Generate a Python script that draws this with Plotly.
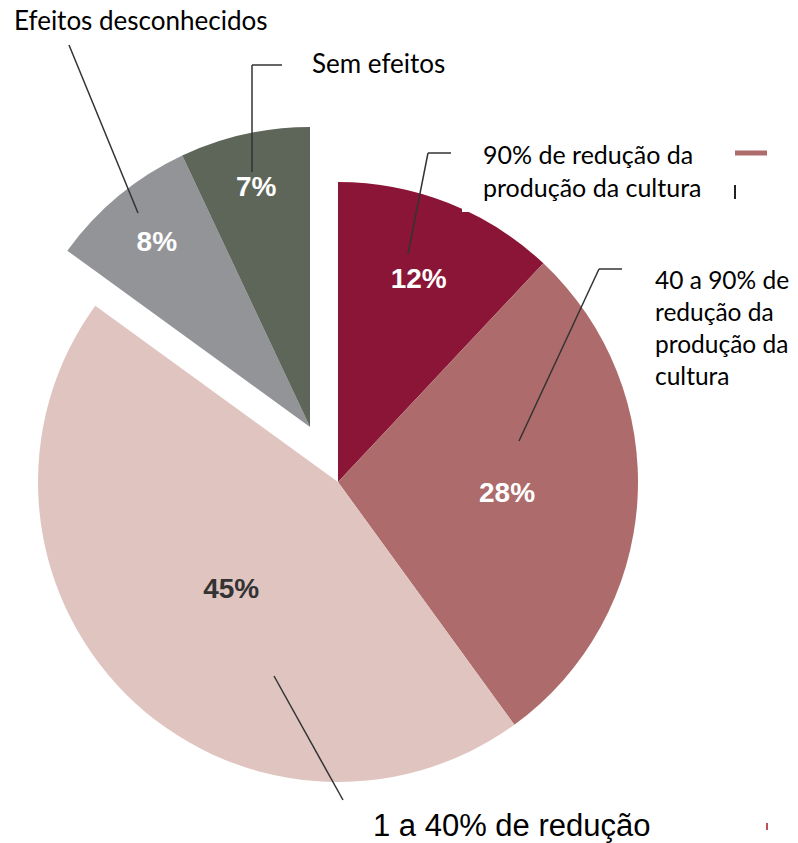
import plotly.graph_objects as go

W, H = 798, 843

categories = [
    "90% de redução da produção da cultura",
    "40 a 90% de redução da produção da cultura",
    "1 a 40% de redução",
    "Efeitos desconhecidos",
    "Sem efeitos",
]
values = [12, 28, 45, 8, 7]
colors = ["#8A1536", "#AE6B6B", "#E0C4C0", "#939498", "#5E665A"]
text_colors = ["white", "white", "#333333", "white", "white"]
pulled = [False, False, False, True, True]

def px_dom(x0, x1, y0, y1):
    return dict(x=[x0 / W, x1 / W], y=[1 - y1 / H, 1 - y0 / H])

fig = go.Figure()

def add_pie(mask, domain):
    fig.add_trace(go.Pie(
        labels=categories,
        values=values,
        sort=False,
        direction="clockwise",
        rotation=0,
        domain=domain,
        marker=dict(colors=[c if m else "rgba(0,0,0,0)" for c, m in zip(colors, mask)],
                    line=dict(width=0)),
        text=[f"{v}%" if m else "" for v, m in zip(values, mask)],
        textinfo="text",
        textposition="inside",
        insidetextorientation="horizontal",
        textfont=dict(family="Liberation Sans", size=28, weight="bold", color=text_colors),
        showlegend=False,
        hoverinfo="label+percent",
    ))

add_pie([not p for p in pulled], px_dom(38, 638, 182, 782))
add_pie(pulled, px_dom(10, 610, 127, 727))

line = dict(color="#333333", width=1.5)
shapes = []
def seg(x0, y0, x1, y1, **kw):
    d = dict(type="line", xref="paper", yref="paper",
             x0=x0 / W, x1=x1 / W, y0=1 - y0 / H, y1=1 - y1 / H, line=line)
    d.update(kw)
    shapes.append(d)

# leader lines
seg(69, 45, 138, 213)
seg(282, 65, 252, 65); seg(252, 65, 252, 172)
seg(451, 153, 428, 153); seg(428, 153, 408, 254)
seg(622, 269, 599, 269); seg(599, 269, 519, 441)
seg(274, 676, 343, 800)
# white overlay box and stray marks
shapes.append(dict(type="rect", xref="paper", yref="paper", x0=462 / W, x1=740 / W,
                   y0=1 - 212 / H, y1=1 - 140 / H, fillcolor="white", line=dict(width=0), layer="above"))
seg(735, 153, 767, 153, line=dict(color="#AE6B6B", width=5))
seg(735, 185, 735, 199, line=dict(color="#222222", width=2))
seg(767, 823, 767, 830, line=dict(color="#C0505A", width=2))

annotations = [
    dict(text="Efeitos desconhecidos", x=12 / W, y=1 - 20 / H, size=26),
    dict(text="Sem efeitos", x=310 / W, y=1 - 63 / H, size=26),
    dict(text="90% de redução da<br>produção da cultura", x=481 / W, y=1 - 170 / H, size=25),
    dict(text="40 a 90% de<br>redução da<br>produção da<br>cultura", x=653 / W, y=1 - 327 / H, size=24.5),
]
ann = []
for a in annotations:
    size = a.pop("size")
    a.update(xref="paper", yref="paper", xanchor="left", yanchor="middle", showarrow=False,
             align="left", font=dict(family="Lato", size=size, color="black"))
    ann.append(a)
ann.append(dict(text="1 a 40% de redução", x=512 / W, y=1 - 825 / H, xref="paper", yref="paper",
                xanchor="center", yanchor="middle", showarrow=False,
                font=dict(family="Liberation Sans", size=31, color="black")))

fig.update_layout(
    width=W, height=H,
    margin=dict(l=0, r=0, t=0, b=0),
    paper_bgcolor="white", plot_bgcolor="white",
    shapes=shapes, annotations=ann,
)

fig.write_html("out.html")
